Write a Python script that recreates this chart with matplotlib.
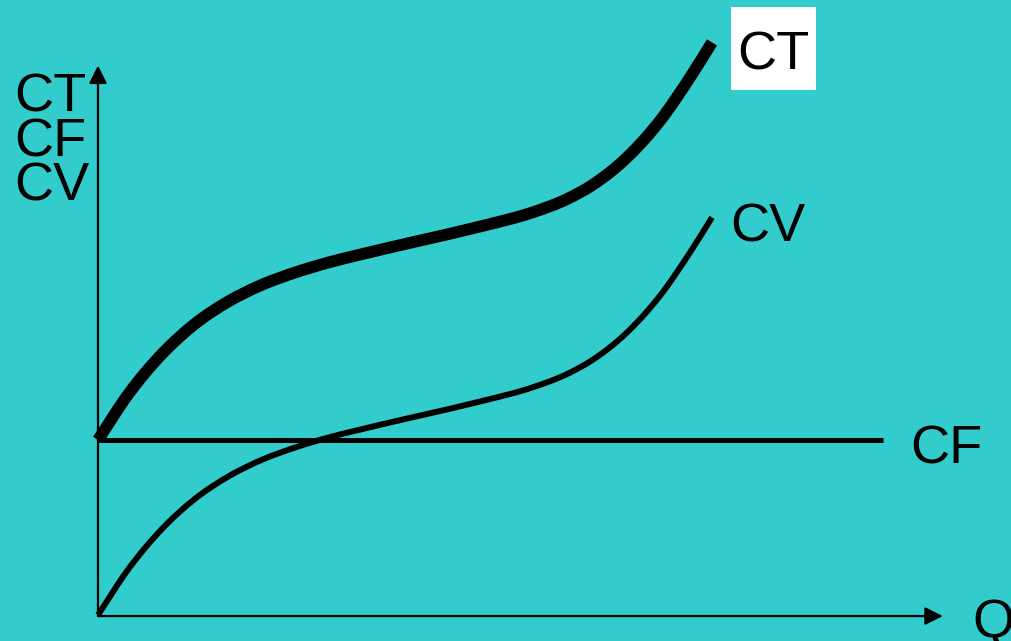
import matplotlib
matplotlib.use("Agg")
import matplotlib.pyplot as plt
from matplotlib.patches import Rectangle, PathPatch
from matplotlib.path import Path

# ---- data (arbitrary units) ----
quantity = [0, 0.49, 1.04, 1.58, 2.12, 2.67, 3.21, 3.75, 4.19, 5.2, 6.27, 7.08, 7.64, 8.06, 8.62, 9.15, 9.69, 10.0]
variable_cost = [0, 2.60, 4.91, 6.64, 7.91, 8.87, 9.57, 10.14, 10.53, 11.36, 12.24, 13.01, 13.77, 14.59, 16.16, 18.23, 20.98, 22.72]
fixed_cost = 10.0
fixed_cost_q = [0, 12.78]
total_cost = [v + fixed_cost for v in variable_cost]
axis_x_max = 13.76
axis_y_max = 31.4
y_labels = ["CT", "CF", "CV"]

BG = "#33CCCC"
W, H = 1012, 641
fig = plt.figure(figsize=(W / 100, H / 100), dpi=100, facecolor=BG)
ax = fig.add_axes([0, 0, 1, 1])
ax.set_facecolor(BG)
ax.set_xlim(-98 / 61.4, (W - 98) / 61.4)
ax.set_ylim((615 - H) / 17.5, 615 / 17.5)
ax.axis("off")

plt.rcParams["font.family"] = ["Liberation Sans", "DejaVu Sans"]
FS = 39


def smooth_path(xs, ys):
    """Cubic Hermite curve through the data points (drawn as Bezier segments)."""
    n = len(xs)
    h = [xs[i + 1] - xs[i] for i in range(n - 1)]
    s = [(ys[i + 1] - ys[i]) / h[i] for i in range(n - 1)]
    m = [s[0]]
    for i in range(1, n - 1):
        m.append((s[i - 1] * h[i] + s[i] * h[i - 1]) / (h[i - 1] + h[i]))
    m.append(s[-1])
    verts = [(xs[0], ys[0])]
    codes = [Path.MOVETO]
    for i in range(n - 1):
        d = h[i] / 3
        verts += [(xs[i] + d, ys[i] + m[i] * d),
                  (xs[i + 1] - d, ys[i + 1] - m[i + 1] * d),
                  (xs[i + 1], ys[i + 1])]
        codes += [Path.CURVE4] * 3
    return Path(verts, codes)


# axes with arrows
arrow = dict(arrowstyle="-|>,head_length=0.5,head_width=0.25", lw=1.6, color="black",
             mutation_scale=21.6, shrinkA=0, shrinkB=0)
ax.annotate("", xy=(axis_x_max, -0.06), xytext=(0, -0.06), arrowprops=arrow)
ax.annotate("", xy=(0, axis_y_max), xytext=(0, -0.06), arrowprops=arrow)

# curves
ax.plot(fixed_cost_q, [fixed_cost, fixed_cost], color="black", lw=3.6, solid_capstyle="butt")
ax.add_patch(PathPatch(smooth_path(quantity, variable_cost), facecolor="none",
                       edgecolor="black", lw=4.3, capstyle="butt", joinstyle="round"))
ax.add_patch(PathPatch(smooth_path(quantity, total_cost), facecolor="none",
                       edgecolor="black", lw=8.5, capstyle="butt", joinstyle="round"))


def px(x, y):
    return x / W, 1 - y / H


# left axis labels
for i, lab in enumerate(y_labels):
    fig.text(*px(14, 112 + 44.5 * i), lab, fontsize=FS, va="baseline", ha="left")

# CT label with white box
fig.patches.append(Rectangle(px(731, 90), 85 / W, 83 / H, transform=fig.transFigure,
                             facecolor="white", edgecolor="none", zorder=5))
fig.text(*px(737, 70), "CT", fontsize=FS, va="baseline", ha="left", zorder=6)

fig.text(*px(730, 241), "CV", fontsize=FS, va="baseline", ha="left")
fig.text(*px(910, 463), "CF", fontsize=FS, va="baseline", ha="left")
fig.text(*px(972, 637), "Q", fontsize=FS, va="baseline", ha="left")

fig.savefig("out.png", dpi=100, facecolor=BG)
